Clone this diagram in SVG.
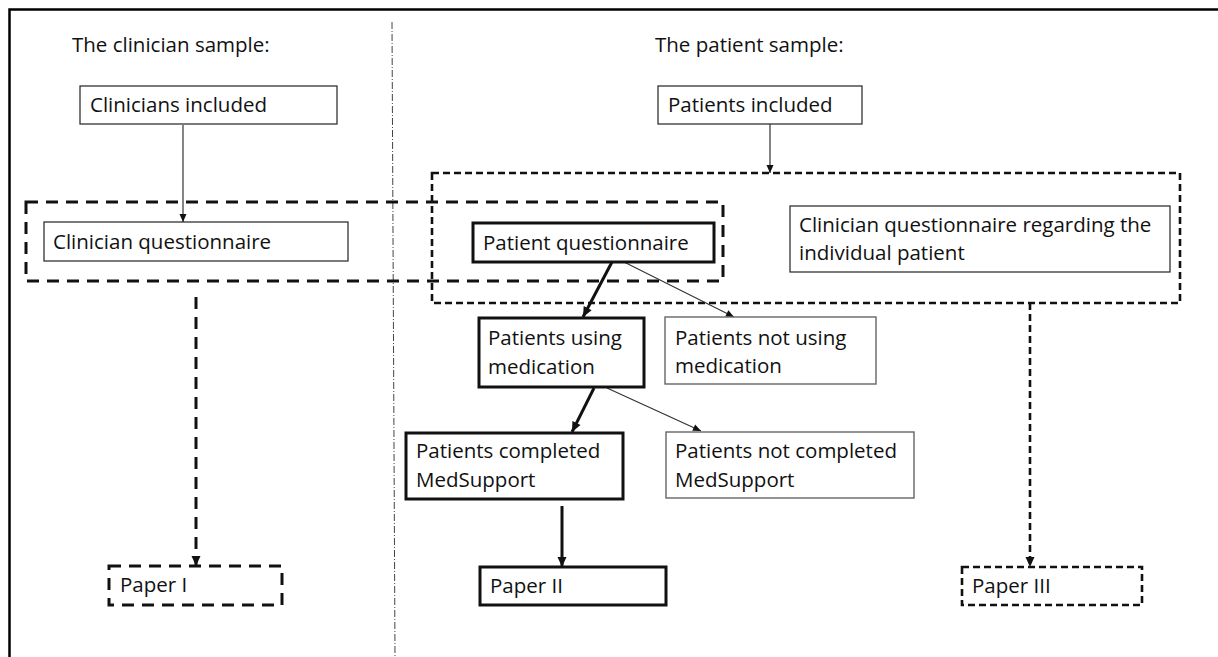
<svg xmlns="http://www.w3.org/2000/svg" width="1218" height="657" viewBox="0 0 1218 657">
<defs>
<style>
text{font-family:"Open Sans","Liberation Sans",sans-serif;font-size:20.5px;fill:#111}
.thin{fill:#fff;stroke:#222;stroke-width:1.2}
.gray{fill:#fff;stroke:#666;stroke-width:1.4}
.thick{fill:#fff;stroke:#111;stroke-width:3}
.dashA{fill:none;stroke:#111;stroke-width:3;stroke-dasharray:12 8}
.dashB{fill:none;stroke:#111;stroke-width:2.6;stroke-dasharray:7 4}
.cl{fill:none;stroke:#333;stroke-width:1.2}
.ck{fill:none;stroke:#111;stroke-width:3}
</style>
<marker id="ah" markerUnits="userSpaceOnUse" markerWidth="12" markerHeight="12" viewBox="0 0 12 12" refX="11" refY="6" orient="auto"><path d="M1,1.5 L11,6 L1,10.5 Z" fill="#111"/></marker>
<marker id="ahs" markerUnits="userSpaceOnUse" markerWidth="10" markerHeight="10" viewBox="0 0 10 10" refX="9" refY="5" orient="auto"><path d="M1,1.5 L9,5 L1,8.5 Z" fill="#111"/></marker>
</defs>
<rect width="1218" height="657" fill="#fff"/>
<g id="frame">
<path d="M9.5,657 V9.5 H1218" fill="none" stroke="#000" stroke-width="2.5"/>
<path d="M392,22 L395,657" fill="none" stroke="#444" stroke-width="1" stroke-dasharray="7 2 1 2"/>
</g>
<g id="headings">
<text x="72" y="52">The clinician sample:</text>
<text x="655" y="52">The patient sample:</text>
</g>
<g id="groups">
<rect id="clinicianGroup" class="dashA" x="26" y="202" width="697" height="79"/>
<rect id="patientGroup" class="dashB" x="432" y="173" width="748" height="130"/>
</g>
<g id="connectors">
<line class="cl" x1="183" y1="125" x2="183" y2="222" marker-end="url(#ahs)"/>
<line class="cl" x1="770" y1="124" x2="770" y2="173" marker-end="url(#ahs)"/>
<line class="dashA" x1="196" y1="297" x2="196" y2="566" stroke-dasharray="11 9" marker-end="url(#ah)"/>
<line class="dashB" x1="1030" y1="303" x2="1030" y2="567" marker-end="url(#ah)"/>
<line class="ck" x1="612" y1="262" x2="583" y2="317" stroke-width="2.8" marker-end="url(#ah)"/>
<line class="cl" x1="624" y1="262" x2="734" y2="317" marker-end="url(#ahs)"/>
<line class="ck" x1="594" y1="388" x2="572" y2="432" stroke-width="2.8" marker-end="url(#ah)"/>
<line class="cl" x1="607" y1="388" x2="701" y2="431" marker-end="url(#ahs)"/>
<line class="ck" x1="562" y1="506" x2="562" y2="567" stroke-width="2.5" marker-end="url(#ah)"/>
</g>
<g id="n-clinicians-included">
<rect class="thin" x="80" y="86" width="257" height="38"/>
<text x="90" y="112">Clinicians included</text>
</g>
<g id="n-clinician-questionnaire">
<rect class="thin" x="44" y="222" width="304" height="39"/>
<text x="53" y="249">Clinician questionnaire</text>
</g>
<g id="n-patients-included">
<rect class="thin" x="658" y="86" width="204" height="38"/>
<text x="668" y="112">Patients included</text>
</g>
<g id="n-patient-questionnaire">
<rect class="thick" x="473" y="223" width="241" height="39"/>
<text x="483" y="250">Patient questionnaire</text>
</g>
<g id="n-clinician-questionnaire-patient">
<rect class="thin" x="790" y="206" width="380" height="66"/>
<text x="799" y="232">Clinician questionnaire regarding the</text>
<text x="799" y="260">individual patient</text>
</g>
<g id="n-patients-using">
<rect class="thick" x="479" y="318" width="165" height="69"/>
<text x="488" y="345">Patients using</text>
<text x="488" y="374">medication</text>
</g>
<g id="n-patients-not-using">
<rect class="gray" x="665" y="317" width="211" height="67"/>
<text x="675" y="345">Patients not using</text>
<text x="675" y="373">medication</text>
</g>
<g id="n-patients-completed">
<rect class="thick" x="406" y="433" width="217" height="66"/>
<text x="416" y="458">Patients completed</text>
<text x="416" y="487">MedSupport</text>
</g>
<g id="n-patients-not-completed">
<rect class="gray" x="666" y="432" width="248" height="66"/>
<text x="675" y="458">Patients not completed</text>
<text x="675" y="487">MedSupport</text>
</g>
<g id="n-paper1">
<rect class="dashA" x="109" y="566" width="173" height="39" stroke-dasharray="12 7"/>
<text x="120" y="592">Paper I</text>
</g>
<g id="n-paper2">
<rect class="thick" x="480" y="567" width="186" height="38"/>
<text x="490" y="593">Paper II</text>
</g>
<g id="n-paper3">
<rect class="dashB" x="962" y="567" width="180" height="38" stroke-width="3"/>
<text x="972" y="593">Paper III</text>
</g>
</svg>
